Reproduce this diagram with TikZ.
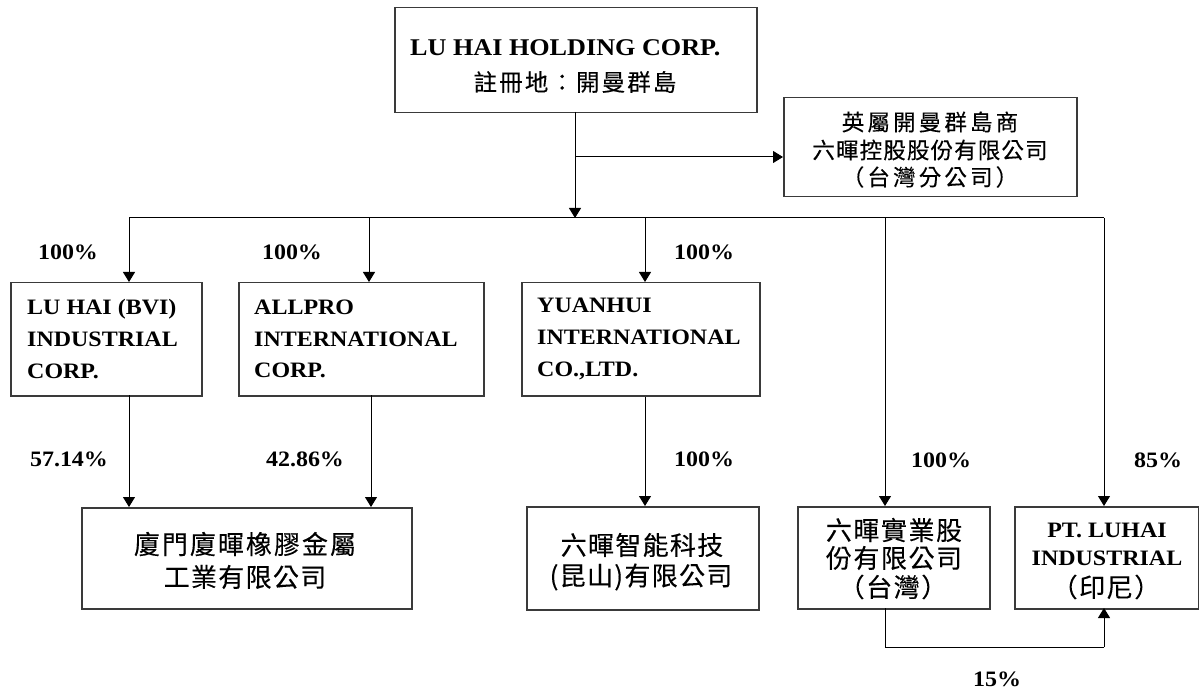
\documentclass[tikz,border=0pt]{standalone}
\usepackage{fontspec}
\setmainfont{Liberation Serif}
\newfontfamily\latb{Liberation Serif Bold}[FakeStretch=1.09]
\newfontfamily\cjk{Noto Sans CJK TC}[FakeBold=0.25]
\newcommand{\zhf}[2]{\cjk\addfontfeature{LetterSpace=#1}\fontsize{#2}{#2}\selectfont}
\usetikzlibrary{arrows.meta}
\definecolor{boxline}{HTML}{3A3A3A}
\tikzset{
 boxn/.style={draw=boxline,line width=1.5pt,fill=white,inner sep=0pt,anchor=north west},
 lab/.style={font=\latb\fontsize{22}{24}\selectfont,inner sep=0pt},
 latl/.style={font=\latb\fontsize{22}{31.8}\selectfont,inner sep=0pt,align=left,anchor=west},
 zhn/.style={inner sep=0pt,align=center},
 arr/.style={line width=1pt,-{Triangle[length=10pt,width=12pt]}},
 lin/.style={line width=1pt},
}
\begin{document}
\begin{tikzpicture}[x=1pt,y=-1pt]
\useasboundingbox (0,0) rectangle (1199,692);
\fill[white] (0,0) rectangle (1199,692);
\newcommand{\bx}[5]{\node[boxn,minimum width=#4-#2,minimum height=#5-#3] (#1) at (#2,#3) {};}
\bx{top}{394}{7}{756}{112}
\node[inner sep=0pt,anchor=west,font=\latb\fontsize{24}{26}\selectfont] (t1) at (410,48) {LU HAI HOLDING CORP.};
\node[zhn] (t2) at (575,82) {\zhf{9}{23.5}註冊地：開曼群島};
\bx{tw}{783}{97}{1076}{196}
\node[zhn] (t3a) at (930,122) {\zhf{14}{22.5}英屬開曼群島商};
\node[zhn] (t3b) at (930,150) {\zhf{5}{22.5}六暉控股股份有限公司};
\node[zhn] (t3c) at (930,177) {\zhf{14}{22.5}（台灣分公司）};
\bx{a}{10}{282}{201}{395}
\node[latl] (a1) at (27,339) {LU HAI (BVI)\\INDUSTRIAL\\CORP.};
\bx{b}{238}{282}{483}{395}
\node[latl] (b1) at (254,339) {ALLPRO\\INTERNATIONAL\\CORP.};
\bx{c}{521}{282}{759}{395}
\node[latl] (c1) at (537,339) {YUANHUI\\INTERNATIONAL\\CO.,LTD.};
\bx{d}{81}{507}{411}{608}
\node[zhn] (d1) at (245,544) {\zhf{7.7}{26}廈門廈暉橡膠金屬};
\node[zhn] (d2) at (245,577) {\zhf{5}{26}工業有限公司};
\bx{e}{526}{506}{758}{609}
\node[zhn] (e1) at (642,545) {\zhf{5}{26}六暉智能科技};
\node[zhn] (e2) at (641,577) {\zhf{5}{26}(昆山)有限公司};
\bx{f}{797}{506}{989}{608}
\node[zhn] (f1) at (894,530) {\zhf{6}{26}六暉實業股};
\node[zhn] (f2) at (894,558) {\zhf{6}{26}份有限公司};
\node[zhn] (f3) at (893,587) {\zhf{6}{26}（台灣）};
\bx{g}{1014}{506}{1198}{608}
\node[zhn,font=\latb\fontsize{22}{24}\selectfont] (g1) at (1107,530) {PT. LUHAI};
\node[zhn,font=\latb\fontsize{22}{24}\selectfont] (g2) at (1107,558) {INDUSTRIAL};
\node[zhn] (g3) at (1106,587) {\zhf{6}{26}（印尼）};
\coordinate (drop) at (575,112);
\coordinate (j1) at (575,157);
\coordinate (bar) at (575,218);
\coordinate (bl) at (129,218);
\coordinate (bb) at (369,218);
\coordinate (bc) at (645,218);
\coordinate (bf) at (885,218);
\coordinate (bg) at (1104,218);
\draw[arr] (drop) -- (bar);
\draw[arr] (j1) -- (tw.west |- j1);
\draw[lin] (bl) -- (bg);
\draw[arr] (bl) -- (bl |- a.north);
\draw[arr] (bb) -- (bb |- b.north);
\draw[arr] (bc) -- (bc |- c.north);
\draw[arr] (bf) -- (bf |- f.north);
\draw[arr] (bg) -- (bg |- g.north);
\coordinate (ad) at (129,395);
\coordinate (bd) at (371,395);
\draw[arr] (ad) -- (ad |- d.north);
\draw[arr] (bd) -- (bd |- d.north);
\draw[arr] (bc |- c.south) -- (bc |- e.north);
\coordinate (fb) at (885,608);
\coordinate (gb) at (1104,608);
\draw[lin] (fb) -- (885,647) -- (1104,647);
\draw[arr] (1104,647) -- (gb);
\node[lab] (p1) at (68,252) {100\%};
\node[lab] (p2) at (292,252) {100\%};
\node[lab] (p3) at (704,252) {100\%};
\node[lab] (p4) at (69,459) {57.14\%};
\node[lab] (p5) at (305,459) {42.86\%};
\node[lab] (p6) at (704,459) {100\%};
\node[lab] (p7) at (941,460) {100\%};
\node[lab] (p8) at (1158,460) {85\%};
\node[lab] (p9) at (997,679) {15\%};
\end{tikzpicture}
\end{document}
